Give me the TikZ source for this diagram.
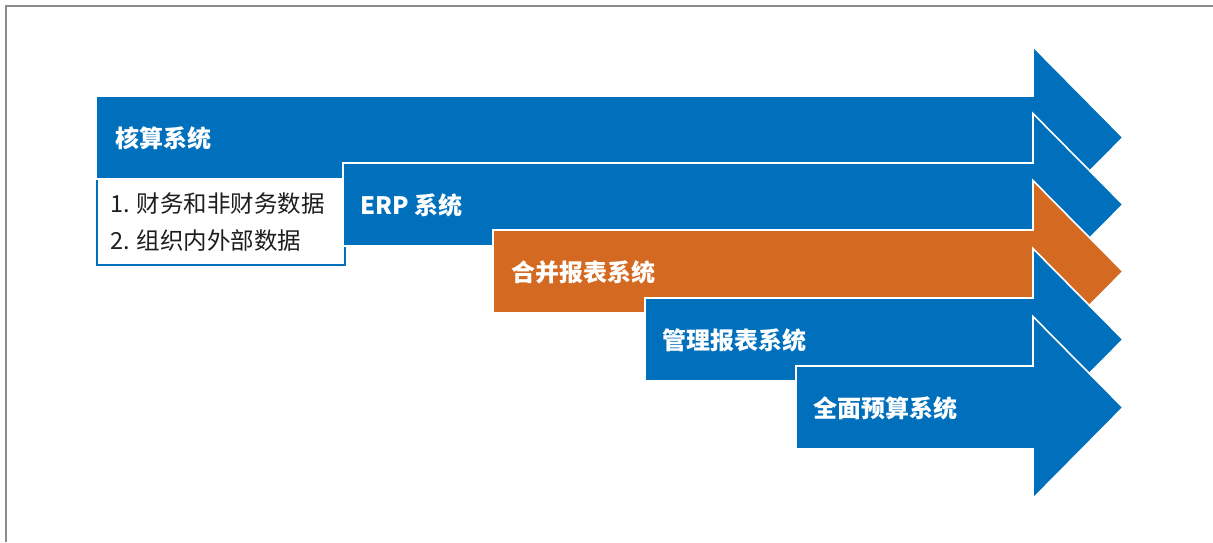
\documentclass[tikz,border=0pt]{standalone}
\usepackage{fontspec}
\newfontfamily\cjk{Noto Sans CJK SC}
\definecolor{myblue}{RGB}{0,112,188}
\definecolor{myorange}{RGB}{212,106,34}
\definecolor{frame}{RGB}{140,140,140}
\definecolor{txt}{RGB}{30,30,30}
\begin{document}
\begin{tikzpicture}[x=1pt,y=-1pt,
  arrowbody/.style={draw=white,line width=1.6pt,line join=miter},
  title/.style={anchor=west,text=white,inner sep=0pt,font=\cjk\bfseries\fontsize{24}{27}\selectfont},
  item/.style={anchor=west,text=txt,inner sep=0pt,font=\cjk\fontsize{23.5}{27}\selectfont}]
\useasboundingbox (0,0) rectangle (1213,542);
\fill[white] (0,0) rectangle (1213,542);
\draw[frame,line width=1.4pt] (6,542) -- (6,6) -- (1213,6);
% data box
\draw[myblue,fill=white,line width=2pt] (97,179) rectangle (345,265);
\node[item] (d1) at (110,204) {1. 财务和非财务数据};
\node[item] (d2) at (110,241) {2. 组织内外部数据};
% arrows
\newcommand{\sysarrow}[5]{%
  \filldraw[arrowbody,fill=#4] (#1,#2) -- (1033,#2) -- (1033,#5-91) -- (1123,#5) -- (1033,#5+91) -- (1033,#3) -- (#1,#3) -- cycle;}
\sysarrow{96}{96}{179}{myblue}{137.5}
\node[title] (a1) at (115,138) {核算系统};
\sysarrow{343}{163}{246}{myblue}{204.5}
\node[title] (a2) at (360,205) {ERP 系统};
\sysarrow{493}{230}{313}{myorange}{271.5}
\node[title] (a3) at (511,272) {合并报表系统};
\sysarrow{645}{298}{381}{myblue}{339.5}
\node[title] (a4) at (662,340) {管理报表系统};
\sysarrow{796}{366}{449}{myblue}{407.5}
\node[title] (a5) at (813,408) {全面预算系统};
\end{tikzpicture}
\end{document}
